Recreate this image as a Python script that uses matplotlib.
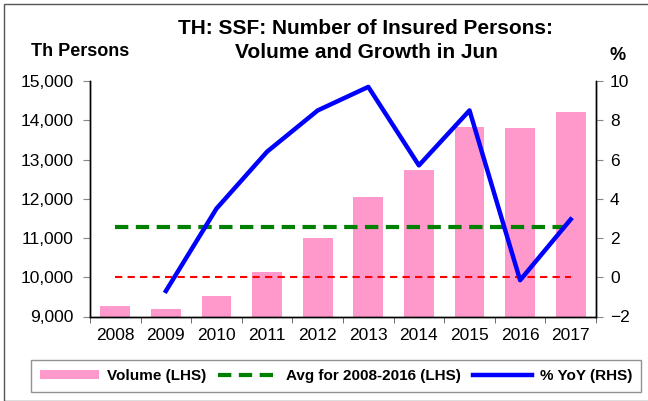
import matplotlib
matplotlib.use("Agg")
import matplotlib.pyplot as plt  # noqa: E402
import numpy as np  # noqa: E402
from matplotlib.patches import Rectangle  # noqa: E402

plt.rcParams["font.family"] = ["Liberation Sans", "DejaVu Sans"]

years = ["2008", "2009", "2010", "2011", "2012", "2013", "2014", "2015", "2016", "2017"]
volume = [9255, 9190, 9510, 10135, 10990, 12035, 12720, 13820, 13800, 14200]
yoy = [np.nan, -0.7, 3.5, 6.4, 8.5, 9.7, 5.7, 8.5, -0.15, 2.95]
avg_2008_2016 = 11280
zero_line = 0

fig = plt.figure(figsize=(6.48, 4.01), dpi=100)
ax = fig.add_axes([90 / 648, 1 - 316.5 / 401, 506 / 648, 235.5 / 401])
ax2 = ax.twinx()

x = np.arange(len(years))
bars = ax.bar(x, volume, width=0.59, color="#ff99cc", label="Volume (LHS)", zorder=2)
avg_line, = ax.plot([x[0], x[-1]], [avg_2008_2016] * 2, color="#008000", lw=3,
                    ls=(0, (3.2, 1.8)), label="Avg for 2008-2016 (LHS)", zorder=3)
ax2.plot([x[0], x[-1]], [zero_line] * 2, color="red", lw=1.5, ls=(0, (3.5, 2.5)), zorder=3)
yoy_line, = ax2.plot(x, yoy, color="blue", lw=3.2, label="% YoY (RHS)", zorder=4)

ax.set_xlim(-0.5, len(years) - 0.5)
ax.set_ylim(9000, 15000)
ax.set_yticks(np.arange(9000, 15001, 1000))
ax.set_yticklabels([f"{v:,}" for v in range(9000, 15001, 1000)])
ax2.set_ylim(-2, 10)
ax2.set_yticks(np.arange(-2, 11, 2))

ax.set_xticks(x)
ax.set_xticklabels(years)
ax.set_xticks(np.arange(-0.5, len(years), 1), minor=True)
ax.tick_params(axis="x", which="major", length=0, labelsize=12.5, pad=8)
ax.tick_params(axis="x", which="minor", length=4, color="#555555")
ax.tick_params(axis="y", length=5, color="#888888", labelsize=12.5, pad=7)
ax2.tick_params(axis="y", length=5, color="#888888", labelsize=12.5, pad=5)

for a in (ax, ax2):
    a.spines["top"].set_visible(False)
    for s in ("left", "right", "bottom"):
        a.spines[s].set_linewidth(1.0)
        a.spines[s].set_color("black")

fig.text(366 / 648, 1 - 28 / 401, "TH: SSF: Number of Insured Persons:",
         ha="center", va="center", fontsize=15, fontweight="bold")
fig.text(366 / 648, 1 - 52 / 401, "Volume and Growth in Jun",
         ha="center", va="center", fontsize=15, fontweight="bold")
fig.text(80 / 648, 1 - 52 / 401, "Th Persons", ha="center", va="center",
         fontsize=13, fontweight="bold")
fig.text(618 / 648, 1 - 56 / 401, "%", ha="center", va="center",
         fontsize=13, fontweight="bold")

leg = fig.legend([bars, avg_line, yoy_line],
                 ["Volume (LHS)", "Avg for 2008-2016 (LHS)", "% YoY (RHS)"],
                 loc="center", ncol=3,
                 bbox_to_anchor=(336 / 648, 1 - 376 / 401),
                 prop={"weight": "bold", "size": 11}, frameon=True,
                 fancybox=False, edgecolor="#777777", handlelength=3.9,
                 handleheight=0.45, columnspacing=0.8, handletextpad=0.5,
                 borderpad=0.6, borderaxespad=0)
leg.get_frame().set_linewidth(1.0)

fig.patches.append(Rectangle((4 / 648, 0), 1.2, 1 - 4 / 401, transform=fig.transFigure,
                             fill=False, edgecolor="#555555", lw=1.0))

fig.savefig("out.png", dpi=100)
